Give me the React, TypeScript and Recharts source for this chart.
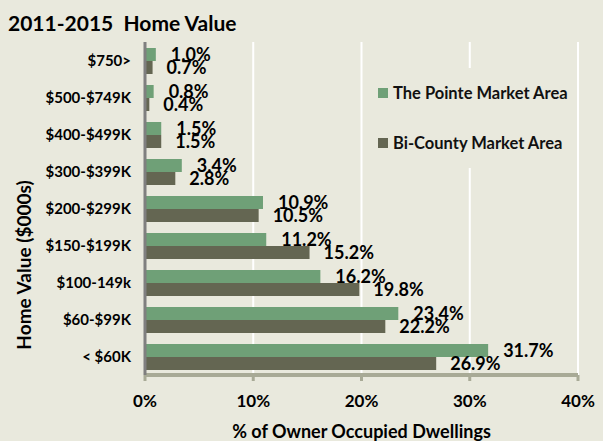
import {
  BarChart,
  Bar,
  XAxis,
  YAxis,
  CartesianGrid,
  Legend,
  LabelList,
} from "recharts";

const categories = [
  "$750>",
  "$500-$749K",
  "$400-$499K",
  "$300-$399K",
  "$200-$299K",
  "$150-$199K",
  "$100-149k",
  "$60-$99K",
  "< $60K",
];
const pointeValues = [1.0, 0.8, 1.5, 3.4, 10.9, 11.2, 16.2, 23.4, 31.7];
const biCountyValues = [0.7, 0.4, 1.5, 2.8, 10.5, 15.2, 19.8, 22.2, 26.9];
const xTicks = [0, 10, 20, 30, 40];

const BG = "#e9e9dd";
const GREEN = "#6fa077";
const DARK = "#646652";
const FONT = "Lato, 'DejaVu Sans', sans-serif";

const data = categories.map((name, i) => ({
  name,
  pointe: pointeValues[i],
  biCounty: biCountyValues[i],
}));

const pct = (v: any) => `${Number(v).toFixed(1)}%`;

function LegendBox() {
  const items = [
    { label: "The Pointe Market Area", color: GREEN },
    { label: "Bi-County Market Area", color: DARK },
  ];
  return (
    <div style={{ paddingTop: 15 }}>
      {items.map((it) => (
        <div
          key={it.label}
          style={{
            display: "flex",
            alignItems: "center",
            height: 20,
            marginBottom: 30,
            paddingLeft: 6,
            fontFamily: FONT,
            fontWeight: 700,
            fontSize: 16.5,
            color: "#111",
          }}
        >
          <span
            style={{
              width: 10,
              height: 10,
              background: it.color,
              marginRight: 5,
              display: "inline-block",
            }}
          />
          {it.label}
        </div>
      ))}
    </div>
  );
}

export default function App() {
  return (
    <div
      style={{
        position: "absolute",
        left: 0,
        top: 0,
        width: 603,
        height: 441,
        background: BG,
        fontFamily: FONT,
      }}
    >
      <div
        style={{
          position: "absolute",
          left: 8,
          top: 11,
          fontSize: 21,
          lineHeight: "24px",
          fontWeight: 700,
          color: "#000",
          whiteSpace: "pre",
        }}
      >
        {"2011-2015  Home Value"}
      </div>
      <BarChart
        width={603}
        height={441}
        data={data}
        layout="vertical"
        margin={{ top: 42, right: 25, bottom: 0, left: 0 }}
        barSize={13}
        barGap={0}
        style={{ fontFamily: FONT }}
      >
        <CartesianGrid horizontal={false} stroke="#ffffff" strokeWidth={2} />
        <XAxis
          type="number"
          domain={[0, 40]}
          ticks={xTicks}
          tickFormatter={(v) => `${v}%`}
          height={66}
          axisLine={{ stroke: "#a8aa96", strokeWidth: 4 }}
          tickLine={{ stroke: "#a8aa96", strokeWidth: 3 }}
          tickSize={6}
          tickMargin={14}
          tick={{ fontSize: 17, fontWeight: 700, fill: "#000" }}
          label={{
            value: "% of Owner Occupied Dwellings",
            position: "insideBottom",
            offset: 3,
            fontSize: 18,
            fontWeight: 700,
            fill: "#000",
          }}
        />
        <YAxis
          type="category"
          dataKey="name"
          width={145}
          axisLine={{ stroke: "#7f7f7f", strokeWidth: 3 }}
          tickLine={false}
          tickSize={6}
          tickMargin={8}
          tick={{ fontSize: 15, fontWeight: 700, fill: "#000" }}
          label={() => (
            <text
              x={23}
              y={265}
              transform="rotate(-90 23 265)"
              textAnchor="middle"
              dominantBaseline="central"
              fontSize={19}
              fontWeight={700}
              fill="#000"
              fontFamily={FONT}
            >
              Home Value ($000s)
            </text>
          )}
        />
        <Legend
          layout="vertical"
          align="center"
          verticalAlign="middle"
          content={() => <LegendBox />}
          wrapperStyle={{
            left: 372,
            top: 68,
            width: 205,
            height: 100,
            background: BG,
          }}
        />
        <Bar dataKey="pointe" name="The Pointe Market Area" fill={GREEN} isAnimationActive={false}>
          <LabelList
            dataKey="pointe"
            position="right"
            offset={15}
            formatter={pct}
            style={{ fontSize: 18, fontWeight: 700, fill: "#000" }}
          />
        </Bar>
        <Bar dataKey="biCounty" name="Bi-County Market Area" fill={DARK} isAnimationActive={false}>
          <LabelList
            dataKey="biCounty"
            position="right"
            offset={14}
            formatter={pct}
            style={{ fontSize: 18, fontWeight: 700, fill: "#000" }}
          />
        </Bar>
      </BarChart>
    </div>
  );
}
